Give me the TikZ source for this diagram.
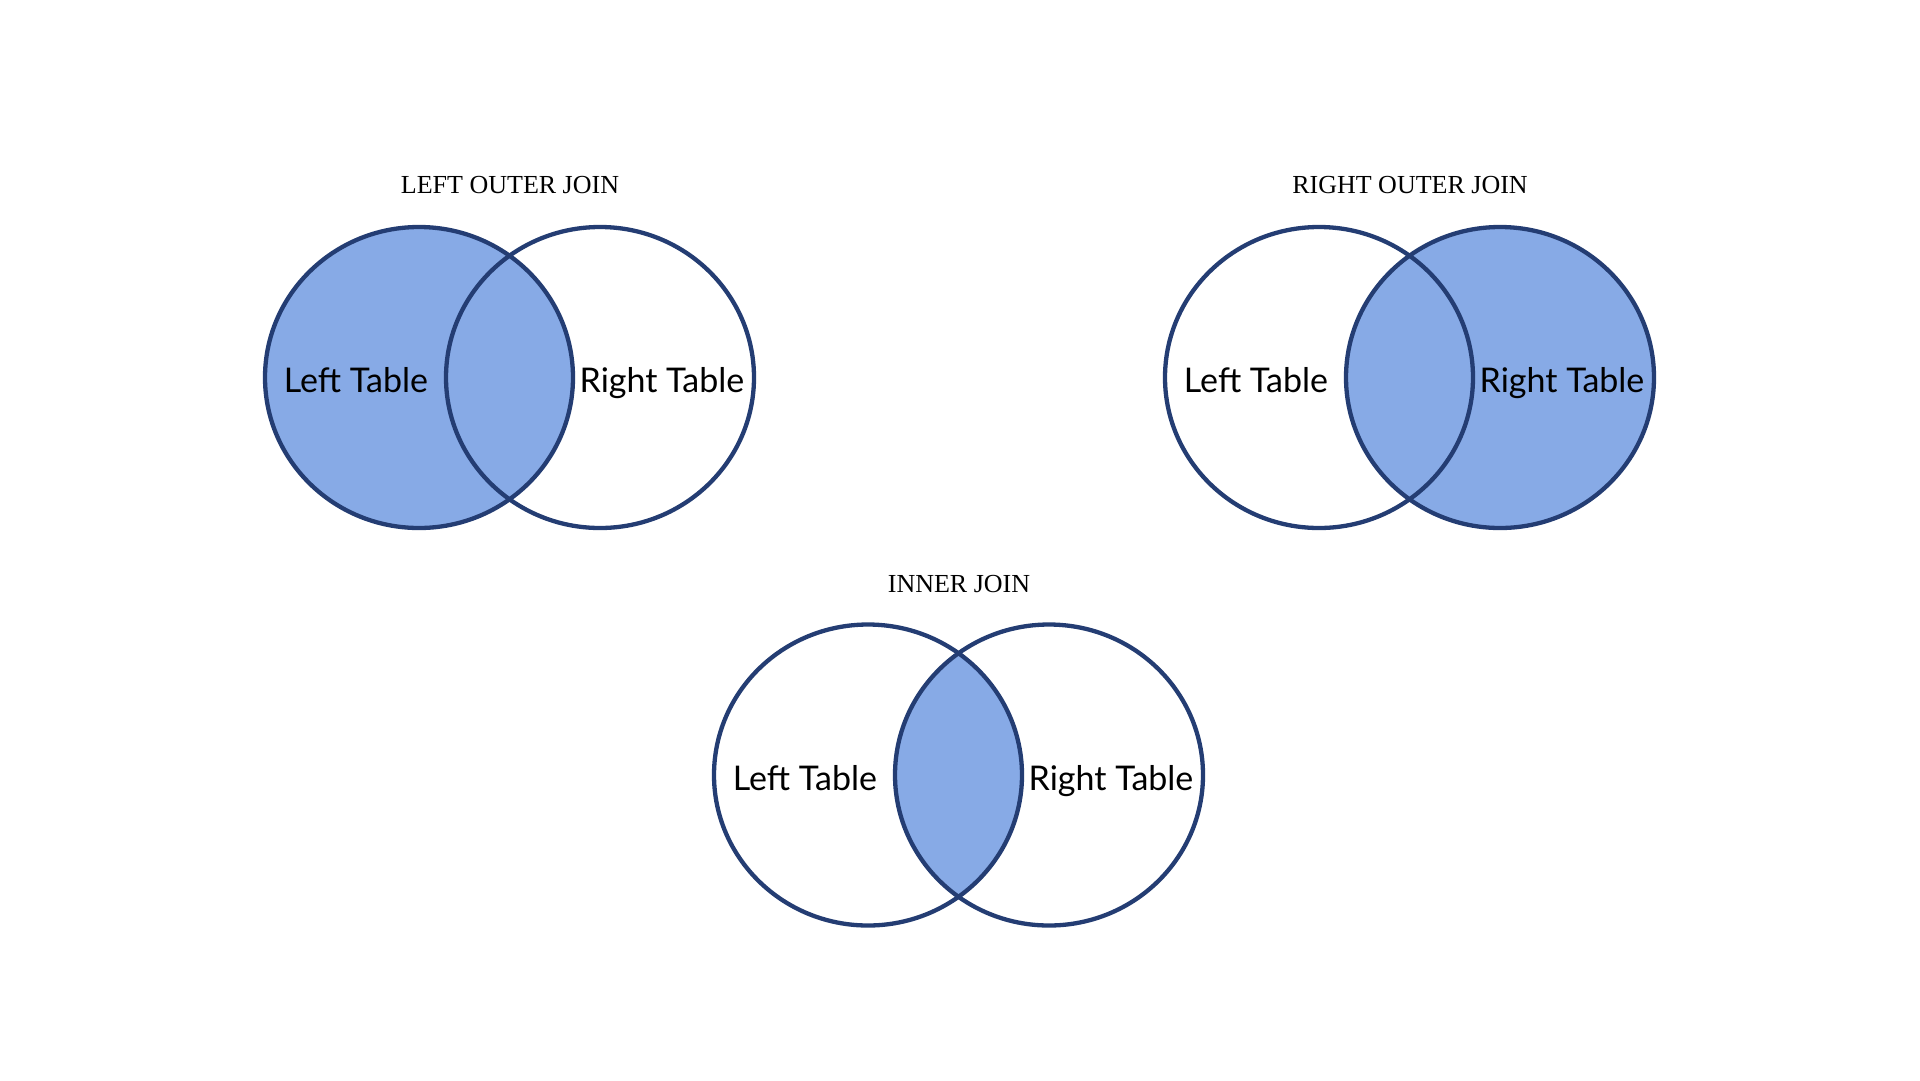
\documentclass[tikz,border=0pt]{standalone}
\usepackage{fontspec}
\setmainfont{Liberation Serif}
\newfontfamily\labelfont{Lato}
\definecolor{joinline}{HTML}{243D73}
\definecolor{joinfill}{HTML}{87AAE6}
\begin{document}
\begin{tikzpicture}[x=1pt,y=-1pt,
	venn/.style={draw=joinline,line width=4.3pt},
	title/.style={anchor=base,font=\fontsize{26}{30}\selectfont},
	tbl/.style={anchor=base,font=\labelfont\fontsize{34}{40}\selectfont}]
	\useasboundingbox (0,0) rectangle (1920,1080);
	% left outer join
	\begin{scope}[shift={(0,0)}]
		\fill[joinfill] (419,377.5) ellipse [x radius=154,y radius=150.5];
		\draw[venn] (419,377.5) ellipse [x radius=154,y radius=150.5];
		\draw[venn] (600,377.5) ellipse [x radius=154,y radius=150.5];
		\node[title] (lojtitle) at (510,193) {LEFT OUTER JOIN};
		\node[tbl] (lojleft) at (356,392.5) {Left Table};
		\node[tbl] (lojright) at (662,392.5) {Right Table};
	\end{scope}
	% right outer join
	\begin{scope}[shift={(900,0)}]
		\fill[joinfill] (600,377.5) ellipse [x radius=154,y radius=150.5];
		\draw[venn] (419,377.5) ellipse [x radius=154,y radius=150.5];
		\draw[venn] (600,377.5) ellipse [x radius=154,y radius=150.5];
		\node[title] (rojtitle) at (510,193) {RIGHT OUTER JOIN};
		\node[tbl] (rojleft) at (356,392.5) {Left Table};
		\node[tbl] (rojright) at (662,392.5) {Right Table};
	\end{scope}
	% inner join
	\begin{scope}[shift={(449,397.5)}]
		\begin{scope}
			\clip (419,377.5) ellipse [x radius=154,y radius=150.5];
			\fill[joinfill] (600,377.5) ellipse [x radius=154,y radius=150.5];
		\end{scope}
		\draw[venn] (419,377.5) ellipse [x radius=154,y radius=150.5];
		\draw[venn] (600,377.5) ellipse [x radius=154,y radius=150.5];
		\node[title] (ijtitle) at (510,195) {INNER JOIN};
		\node[tbl] (ijleft) at (356,392.5) {Left Table};
		\node[tbl] (ijright) at (662,392.5) {Right Table};
	\end{scope}
\end{tikzpicture}
\end{document}
